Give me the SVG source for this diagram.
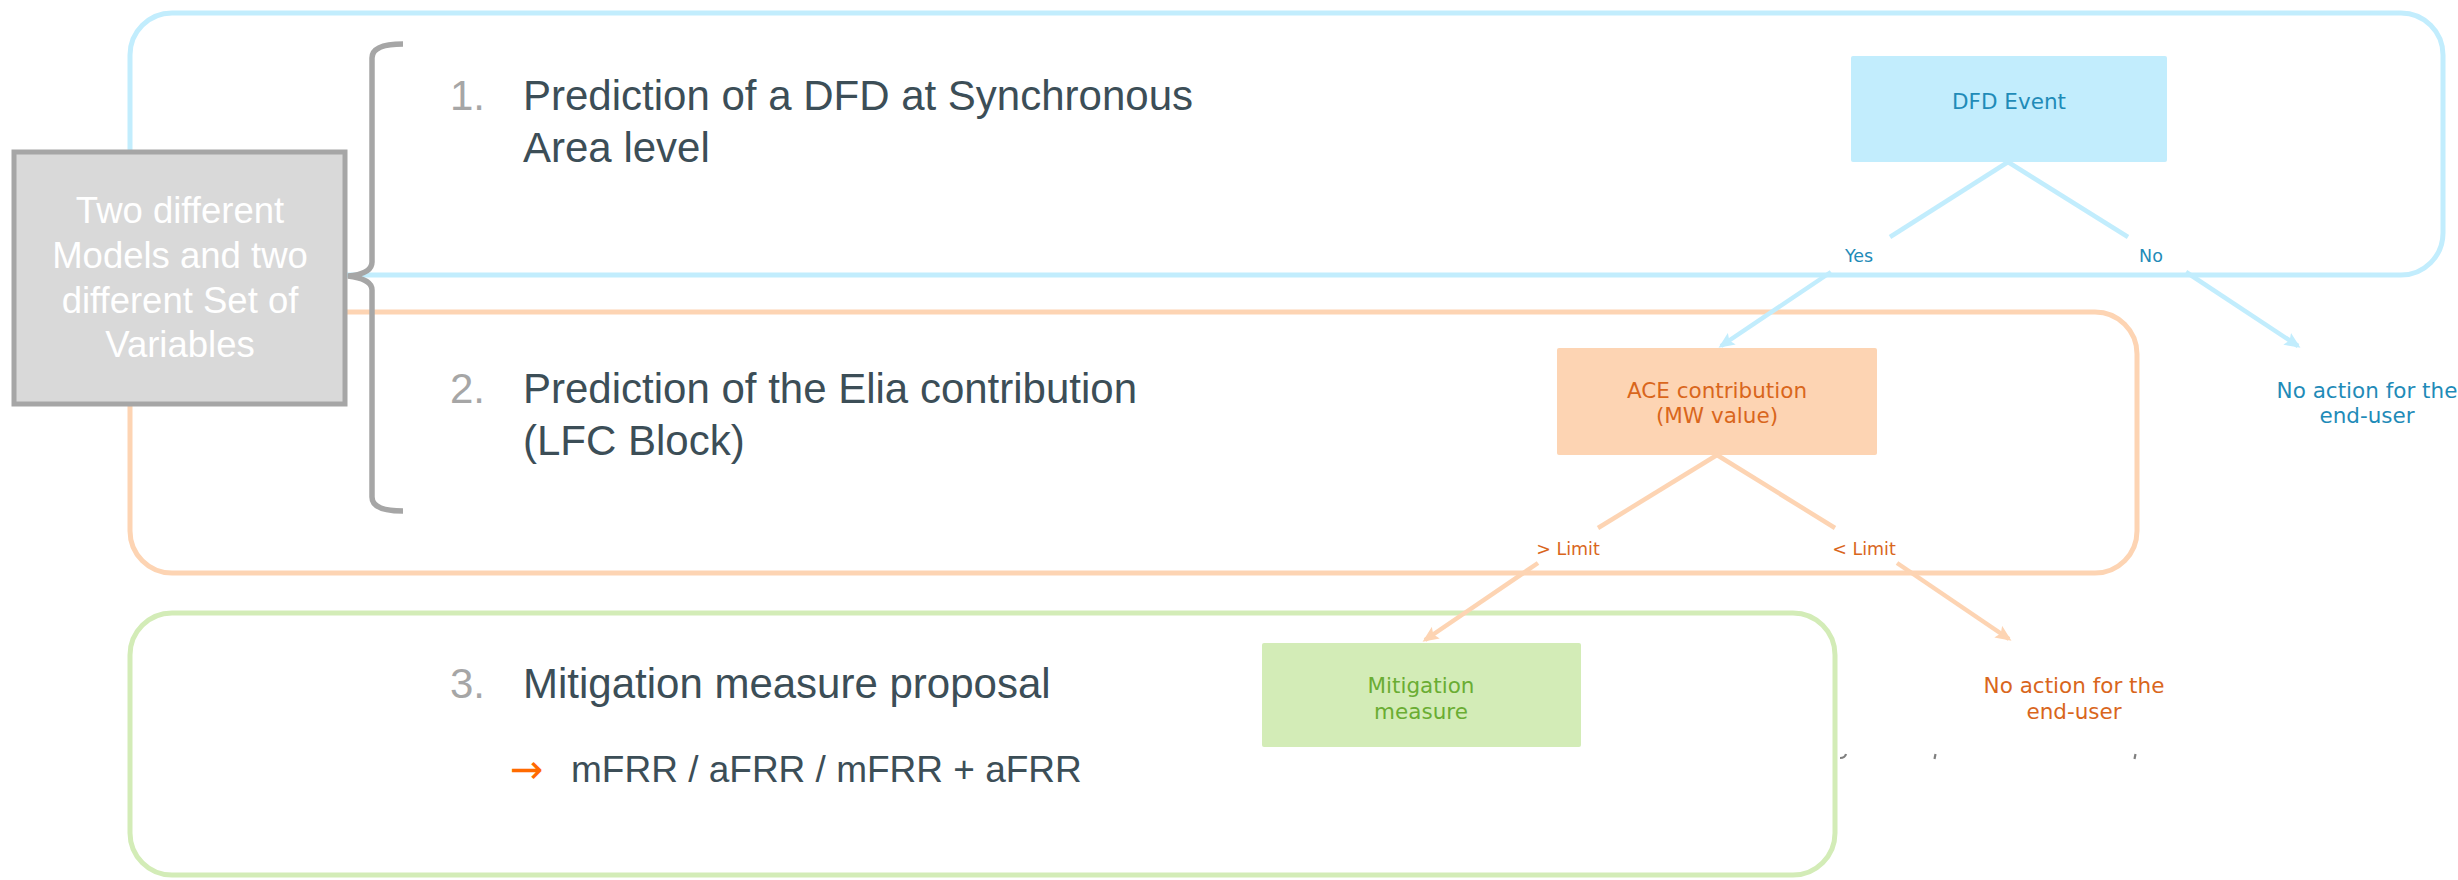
<svg xmlns="http://www.w3.org/2000/svg" width="2458" height="880" viewBox="0 0 2458 880">
  <style>
    .panel { fill: none; stroke-width: 5; }
    .p-blue { stroke: #c2edfd; }
    .p-orange { stroke: #fdd4b3; }
    .p-green { stroke: #d3ecb7; }
    .main { font-family: "Liberation Sans", Arial, sans-serif; font-size: 42px; fill: #3c4e57; }
    .num { font-family: "Liberation Sans", Arial, sans-serif; font-size: 42px; fill: #a6a6a6; }
    .sub { font-family: "Liberation Sans", Arial, sans-serif; font-size: 37px; fill: #3c4e57; }
    .side { font-family: "Liberation Sans", Arial, sans-serif; font-size: 36.5px; fill: #ffffff; text-anchor: middle; }
    .fc { font-family: "DejaVu Sans", Verdana, sans-serif; font-size: 21.5px; text-anchor: middle; }
    .lbl { font-family: "DejaVu Sans", Verdana, sans-serif; font-size: 17.5px; text-anchor: middle; }
    .t-blue { fill: #1f8bb8; }
    .t-orange { fill: #d9661c; }
    .t-green { fill: #6aad33; }
    .c-blue { stroke: #c2edfd; stroke-width: 4.5; fill: none; }
    .c-orange { stroke: #fdd4b3; stroke-width: 4.5; fill: none; }
  </style>
  <defs>
    <marker id="arrow-blue" viewBox="0 0 16 14" refX="13" refY="7" markerWidth="16" markerHeight="14" markerUnits="userSpaceOnUse" orient="auto">
      <path d="M0,0 L16,7 L0,14 L3,7 z" fill="#c2edfd"/>
    </marker>
    <marker id="arrow-orange" viewBox="0 0 16 14" refX="13" refY="7" markerWidth="16" markerHeight="14" markerUnits="userSpaceOnUse" orient="auto">
      <path d="M0,0 L16,7 L0,14 L3,7 z" fill="#fdd4b3"/>
    </marker>
  </defs>

  <rect width="2458" height="880" fill="#ffffff"/>

  <!-- stage panels -->
  <g id="panel-1">
    <rect class="panel p-blue" x="130" y="13" width="2313" height="262" rx="42" ry="42"/>
  </g>
  <g id="panel-2">
    <rect class="panel p-orange" x="130" y="312" width="2007" height="261" rx="42" ry="42"/>
  </g>
  <g id="panel-3">
    <rect class="panel p-green" x="130" y="613" width="1705" height="262" rx="42" ry="42"/>
  </g>

  <!-- models / variables note with brace -->
  <g id="models-note">
    <rect x="14" y="152" width="331" height="252" fill="#d9d9d9" stroke="#a6a6a6" stroke-width="5"/>
    <text class="side" x="180" y="223">Two different</text>
    <text class="side" x="180" y="268">Models and two</text>
    <text class="side" x="180" y="313">different Set of</text>
    <text class="side" x="180" y="357">Variables</text>
  </g>
  <g id="brace">
    <path d="M403,44 Q372,44 372,58 L372,262 Q372,274 348,276 Q372,279 372,290 L372,497 Q372,511 403,511" fill="none" stroke="#a6a6a6" stroke-width="5.5"/>
  </g>

  <!-- stage descriptions -->
  <g id="step-1">
    <text class="num" x="450" y="110">1.</text>
    <text class="main" x="523" y="110">Prediction of a DFD at Synchronous</text>
    <text class="main" x="523" y="162">Area level</text>
  </g>
  <g id="step-2">
    <text class="num" x="450" y="403">2.</text>
    <text class="main" x="523" y="403">Prediction of the Elia contribution</text>
    <text class="main" x="523" y="455">(LFC Block)</text>
  </g>
  <g id="step-3">
    <text class="num" x="450" y="698">3.</text>
    <text class="main" x="523" y="698">Mitigation measure proposal</text>
    <text x="510" y="783" font-family="DejaVu Sans, sans-serif" font-size="40" fill="#ff6a00">→</text>
    <text class="sub" x="571" y="782">mFRR / aFRR / mFRR + aFRR</text>
  </g>

  <!-- decision flow nodes -->
  <g id="dfd-event">
    <rect x="1851" y="56" width="316" height="106" rx="2" fill="#c2edfd"/>
    <text class="fc t-blue" x="2009" y="109">DFD Event</text>
  </g>
  <g id="ace-contribution">
    <rect x="1557" y="348" width="320" height="107" rx="2" fill="#fdd4b3"/>
    <text class="fc t-orange" x="1717" y="398">ACE contribution</text>
    <text class="fc t-orange" x="1717" y="423">(MW value)</text>
  </g>
  <g id="no-action-dfd">
    <text class="fc t-blue" x="2367" y="398">No action for the</text>
    <text class="fc t-blue" x="2367" y="423">end-user</text>
  </g>
  <g id="mitigation">
    <rect x="1262" y="643" width="319" height="104" rx="2" fill="#d3ecb7"/>
    <text class="fc t-green" x="1421" y="693">Mitigation</text>
    <text class="fc t-green" x="1421" y="719">measure</text>
  </g>
  <g id="no-action-ace">
    <text class="fc t-orange" x="2074" y="693">No action for the</text>
    <text class="fc t-orange" x="2074" y="719">end-user</text>
  </g>

  <!-- connectors -->
  <g id="connectors">
    <line class="c-blue" x1="2008" y1="162" x2="1890" y2="237"/>
    <line class="c-blue" x1="1831" y1="272" x2="1721" y2="346" marker-end="url(#arrow-blue)"/>
    <line class="c-blue" x1="2008" y1="162" x2="2128" y2="237"/>
    <line class="c-blue" x1="2186" y1="272" x2="2298" y2="346" marker-end="url(#arrow-blue)"/>
    <line class="c-orange" x1="1717" y1="455" x2="1598" y2="528"/>
    <line class="c-orange" x1="1538" y1="563" x2="1425" y2="640" marker-end="url(#arrow-orange)"/>
    <line class="c-orange" x1="1717" y1="455" x2="1835" y2="528"/>
    <line class="c-orange" x1="1897" y1="563" x2="2009" y2="639" marker-end="url(#arrow-orange)"/>
    <text class="lbl t-blue" x="1859" y="262">Yes</text>
    <text class="lbl t-blue" x="2151" y="262">No</text>
    <text class="lbl t-orange" x="1568" y="555">&gt; Limit</text>
    <text class="lbl t-orange" x="1864" y="555">&lt; Limit</text>
  </g>

  <!-- small grey ticks under the right-hand labels -->
  <g id="ticks" stroke="#7f7f7f" stroke-width="2.2" fill="none">
    <path d="M1840,758 Q1845,758 1846,754"/>
    <line x1="1935.5" y1="754" x2="1934.5" y2="759"/>
    <line x1="2135.5" y1="754" x2="2134.5" y2="759"/>
  </g>
</svg>
